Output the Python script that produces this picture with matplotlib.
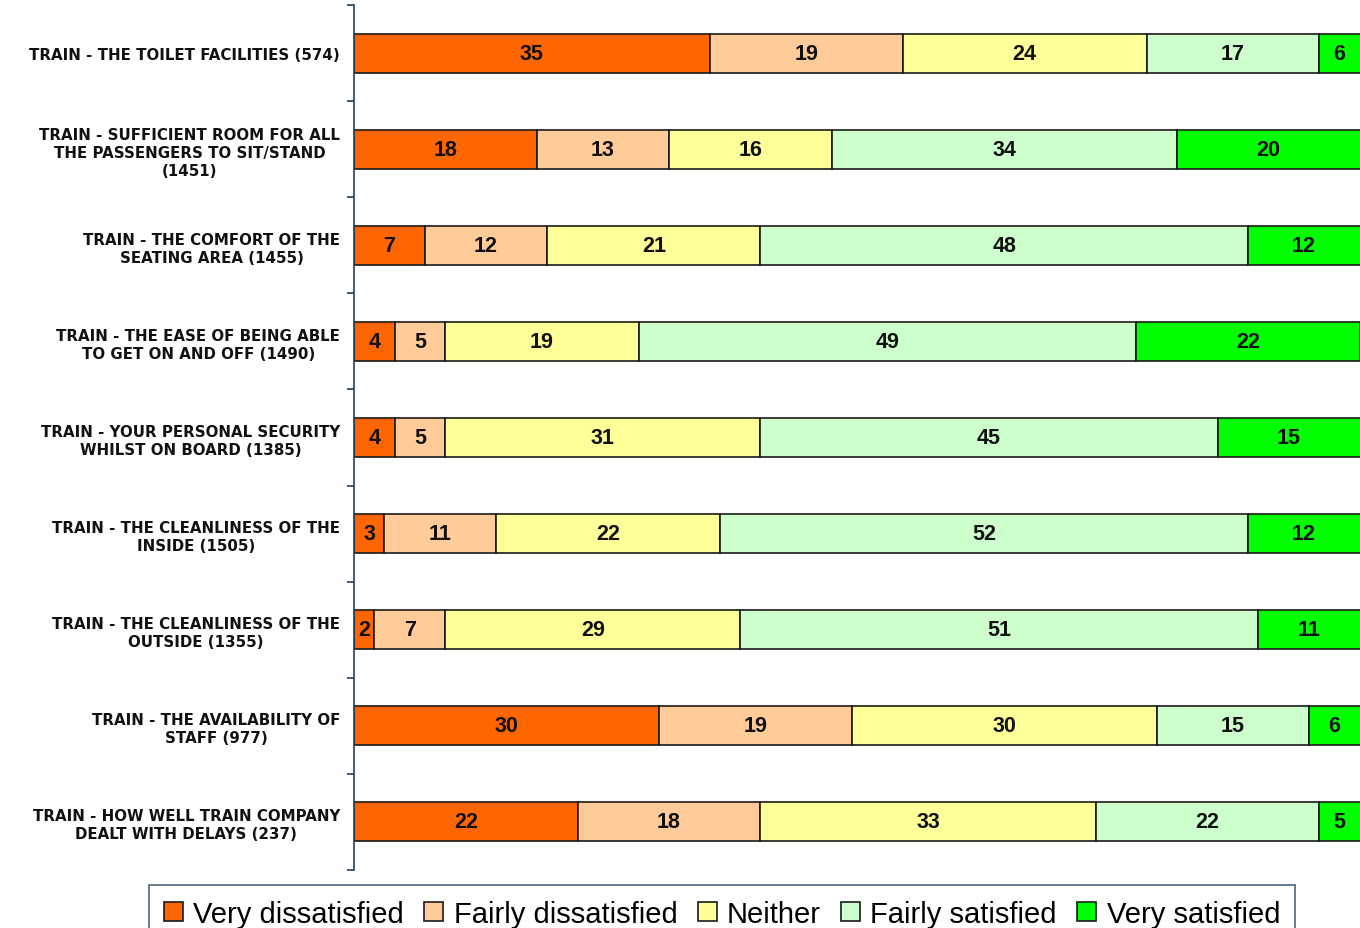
import matplotlib
matplotlib.use('Agg')
import matplotlib.pyplot as plt
import numpy as np

categories = [
    'TRAIN - THE TOILET FACILITIES (574)',
    'TRAIN - SUFFICIENT ROOM FOR ALL\nTHE PASSENGERS TO SIT/STAND\n(1451)',
    'TRAIN - THE COMFORT OF THE\nSEATING AREA (1455)',
    'TRAIN - THE EASE OF BEING ABLE\nTO GET ON AND OFF (1490)',
    'TRAIN - YOUR PERSONAL SECURITY\nWHILST ON BOARD (1385)',
    'TRAIN - THE CLEANLINESS OF THE\nINSIDE (1505)',
    'TRAIN - THE CLEANLINESS OF THE\nOUTSIDE (1355)',
    'TRAIN - THE AVAILABILITY OF\nSTAFF (977)',
    'TRAIN - HOW WELL TRAIN COMPANY\nDEALT WITH DELAYS (237)',
]

very_dissatisfied = [35, 18, 7, 4, 4, 3, 2, 30, 22]
fairly_dissatisfied = [19, 13, 12, 5, 5, 11, 7, 19, 18]
neither = [24, 16, 21, 19, 31, 22, 29, 30, 33]
fairly_satisfied = [17, 34, 48, 49, 45, 52, 51, 15, 22]
very_satisfied = [6, 20, 12, 22, 15, 12, 11, 6, 5]

series_names = ['Very dissatisfied', 'Fairly dissatisfied', 'Neither',
                'Fairly satisfied', 'Very satisfied']
series_colors = ['#FF6600', '#FFCC99', '#FFFF99', '#CCFFCC', '#00FF00']

axis_blue = '#1F3F5F'

fig = plt.figure(figsize=(13.6, 9.29), dpi=100)
ax = fig.add_axes([354 / 1360, 58 / 929, 1006 / 1360, 865 / 929])

y = np.arange(len(categories))
left = np.zeros(len(categories))
all_series = [very_dissatisfied, fairly_dissatisfied, neither,
              fairly_satisfied, very_satisfied]
for name, vals, color in zip(series_names, all_series, series_colors):
    vals = np.array(vals)
    bars = ax.barh(y, vals, left=left, height=0.405, color=color,
                   edgecolor='#1a1a1a', linewidth=1.2, label=name)
    # percentage in the middle of every segment
    ax.bar_label(bars, labels=[str(v) for v in vals], label_type='center',
                 fontsize=15.5, fontweight='heavy', family='Liberation Sans',
                 color='#111111')
    left += vals

ax.set_xlim(0, 99)
ax.set_ylim(8.5, -0.5)

ax.set_yticks(y)
ax.set_yticklabels(categories, fontsize=10.8, fontweight='bold',
                   family='DejaVu Sans', color='#111111')
for t in ax.get_yticklabels():
    t.set_multialignment('center')
    t.set_linespacing(1.25)
ax.tick_params(axis='y', which='major', length=0, pad=10)
ax.set_yticks(np.arange(-0.5, len(categories), 1), minor=True)
ax.tick_params(axis='y', which='minor', length=5, width=1.2, color=axis_blue)
ax.set_xticks([])

for side in ['top', 'right', 'bottom']:
    ax.spines[side].set_visible(False)
ax.spines['left'].set_color(axis_blue)
ax.spines['left'].set_linewidth(1.2)

leg = fig.legend(loc='upper center', bbox_to_anchor=(722 / 1360, 1 - 886 / 929),
                 ncol=5, frameon=True, fancybox=False, edgecolor=axis_blue,
                 handlelength=0.65, handleheight=0.65, handletextpad=0.35,
                 columnspacing=0.7, borderpad=0.5, borderaxespad=0,
                 prop={'family': 'Liberation Sans', 'size': 21})
leg.get_frame().set_linewidth(1.2)

fig.savefig('out.png', dpi=100)
